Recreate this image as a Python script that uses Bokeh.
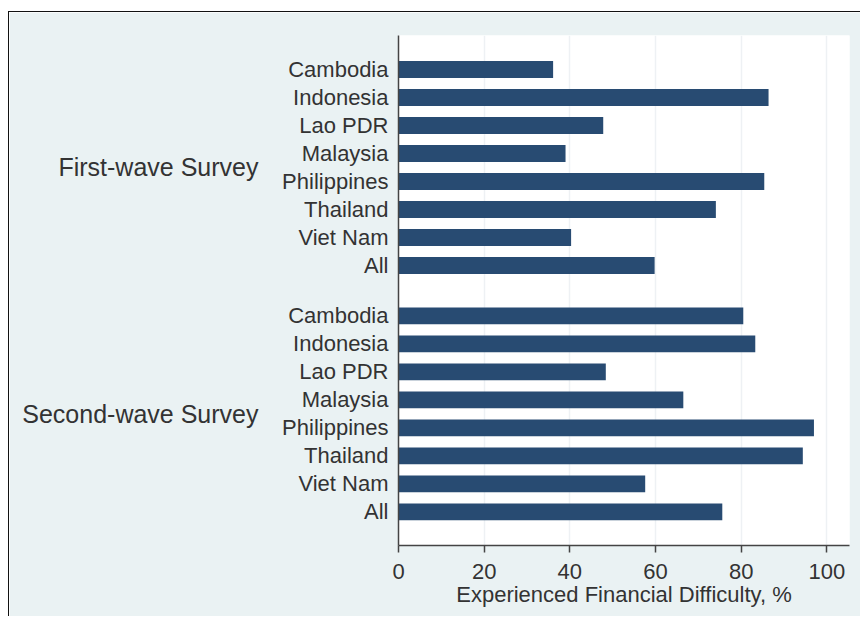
from bokeh.plotting import figure
from bokeh.models import FixedTicker, LinearAxis, Range1d, ColumnDataSource
from bokeh.embed import file_html
from bokeh.resources import INLINE

countries = ["Cambodia", "Indonesia", "Lao PDR", "Malaysia", "Philippines", "Thailand", "Viet Nam", "All"]
first_wave = [36.1, 86.4, 47.8, 39.0, 85.4, 74.1, 40.3, 59.8]
second_wave = [80.5, 83.3, 48.4, 66.5, 97.0, 94.4, 57.6, 75.6]
groups = ["First-wave Survey", "Second-wave Survey"]
x_ticks = [0, 20, 40, 60, 80, 100]
x_label = "Experienced Financial Difficulty, %"

GROUP_OFFSET = 8.8
BAR_COLOR = "#284b72"
BG = "#eaf2f3"
TEXT = "#333333"
FONT = "Liberation Sans"

ys, vals, labels = [], [], {}
for g, series in enumerate([first_wave, second_wave]):
    for i, v in enumerate(series):
        y = round(g * GROUP_OFFSET + i, 3)
        ys.append(y)
        vals.append(v)
        labels[y] = countries[i]

group_ys = [round(g * GROUP_OFFSET + (len(countries) - 1) / 2, 3) for g in range(len(groups))]
group_labels = {y: name for y, name in zip(group_ys, groups)}

src = ColumnDataSource(dict(y=ys, v=vals))

p = figure(width=852, height=605, output_backend="svg", toolbar_location=None,
           x_range=Range1d(0, 105.3), y_range=Range1d(17.0, -1.214),
           min_border_left=389, min_border_right=12, min_border_top=23, min_border_bottom=72)
p.styles = {"border-top": "1px solid #111", "border-left": "1px solid #111",
            "margin-top": "11px", "margin-left": "8px"}

p.hbar(y="y", right="v", left=0, height=0.6, source=src, fill_color=BAR_COLOR, line_color=None)

p.background_fill_color = "white"
p.border_fill_color = BG
p.outline_line_color = None

p.xgrid.ticker = FixedTicker(ticks=x_ticks)
p.xgrid.grid_line_color = "#eef1f4"
p.xgrid.grid_line_width = 1.5
p.ygrid.grid_line_color = None

xa = p.xaxis[0]
xa.ticker = FixedTicker(ticks=x_ticks)
xa.axis_line_color = "#444444"
xa.axis_line_width = 1.5
xa.major_tick_line_color = "#444444"
xa.major_tick_line_width = 1.5
xa.major_tick_out = 7
xa.major_tick_in = 0
xa.minor_tick_line_color = None
xa.major_label_text_font = FONT
xa.major_label_text_font_size = "22px"
xa.major_label_text_color = TEXT
xa.major_label_standoff = 11
xa.axis_label = x_label
xa.axis_label_text_font = FONT
xa.axis_label_text_font_size = "22px"
xa.axis_label_text_font_style = "normal"
xa.axis_label_text_color = TEXT
xa.axis_label_standoff = 0

ya = p.yaxis[0]
ya.ticker = FixedTicker(ticks=ys)
ya.major_label_overrides = labels
ya.axis_line_color = "#444444"
ya.axis_line_width = 1.5
ya.major_tick_line_color = None
ya.minor_tick_line_color = None
ya.major_label_text_font = FONT
ya.major_label_text_font_size = "22px"
ya.major_label_text_color = TEXT
ya.major_label_standoff = 4

ga = LinearAxis(ticker=FixedTicker(ticks=group_ys), major_label_overrides=group_labels)
ga.axis_line_color = None
ga.major_tick_line_color = None
ga.minor_tick_line_color = None
ga.major_label_text_font = FONT
ga.major_label_text_font_size = "25px"
ga.major_label_text_color = TEXT
ga.major_label_standoff = 15
p.add_layout(ga, "left")

open("out.html", "w").write(file_html(p, INLINE))
